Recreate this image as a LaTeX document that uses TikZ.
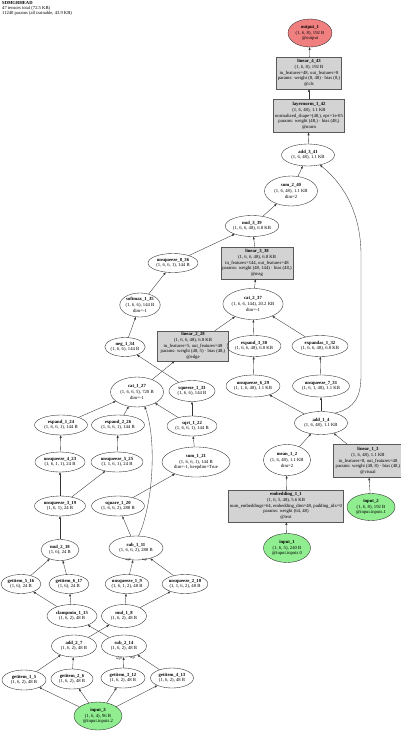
\documentclass[tikz,border=0pt]{standalone}
\usepackage{fontspec}
\setmainfont{Liberation Serif}
\usetikzlibrary{shapes.geometric,arrows.meta}
\definecolor{lgreen}{HTML}{90EE90}
\definecolor{lcoral}{HTML}{F08080}
\definecolor{lgray}{HTML}{D3D3D3}
\begin{document}
\begin{tikzpicture}[x=1pt,y=-1pt,
  every node/.style={font=\fontsize{4.7}{5.7}\selectfont, align=center, inner sep=0pt},
  op/.style={ellipse, draw=black!85, line width=0.35pt},
  inp/.style={op, fill=lgreen},
  outp/.style={op, fill=lcoral},
  mod/.style={rectangle, draw=black!65, fill=lgray, line width=0.35pt, inner xsep=1.5pt, inner ysep=1pt},
  edge/.style={draw=black!80, line width=0.35pt, -{Triangle[length=2.6pt,width=1.9pt]}},
  lab/.style={font=\fontsize{3.2}{3.6}\selectfont}
]
\useasboundingbox (0,0) rectangle (400,731);
\fill[white] (0,0) rectangle (400,731);

\node[anchor=north west, align=left, font=\fontsize{4.6}{4.7}\selectfont] (hdr) at (2,1.5)
  {\textbf{SDMGRHEAD}\\47 tensors total (72.5 KB)\\11240 params (all trainable, 43.9 KB)};

% right column
\node[outp, minimum width=44pt, minimum height=28pt] (output_1) at (310,33) {\textbf{output\_1}\\(1, 6, 8), 192 B\\@output};
\node[mod, minimum width=63pt, minimum height=32pt] (linear_4_43) at (309,73) {\textbf{linear\_4\_43}\\(1, 6, 8), 192 B\\in\_features=48, out\_features=8\\params: weight (8, 48) · bias (8,)\\@cls};
\node[mod, minimum width=69pt, minimum height=33pt] (layernorm_1_42) at (309,116) {\textbf{layernorm\_1\_42}\\(1, 6, 48), 1.1 KB\\normalized\_shape=(48,), eps=1e-05\\params: weight (48,) · bias (48,)\\@norm};
\node[op, minimum width=53pt, minimum height=22pt] (add_3_41) at (308,155) {\textbf{add\_3\_41}\\(1, 6, 48), 1.1 KB};
\node[op, minimum width=53pt, minimum height=30pt] (sum_2_40) at (291,191) {\textbf{sum\_2\_40}\\(1, 6, 48), 1.1 KB\\dim=2};
\node[op, minimum width=51pt, minimum height=21pt] (mul_3_39) at (252,226) {\textbf{mul\_3\_39}\\(1, 6, 6, 48), 6.8 KB};
\node[mod, minimum width=69pt, minimum height=32pt] (linear_3_38) at (257,263) {\textbf{linear\_3\_38}\\(1, 6, 6, 48), 6.8 KB\\in\_features=144, out\_features=48\\params: weight (48, 144) · bias (48,)\\@msg};
\node[op, minimum width=50pt, minimum height=19pt] (unsqueeze_8_36) at (173,263) {\textbf{unsqueeze\_8\_36}\\(1, 6, 6, 1), 144 B};
\node[op, minimum width=58pt, minimum height=31pt] (cat_2_37) at (253,304) {\textbf{cat\_2\_37}\\(1, 6, 6, 144), 20.2 KB\\dim=-1};
\node[op, minimum width=40pt, minimum height=24pt] (softmax_1_35) at (140,305) {\textbf{softmax\_1\_35}\\(1, 6, 6), 144 B\\dim=-1};
\node[op, minimum width=38pt, minimum height=19pt] (neg_1_34) at (125,347) {\textbf{neg\_1\_34}\\(1, 6, 6), 144 B};
\node[mod, minimum width=71pt, minimum height=30pt] (linear_2_28) at (193,346) {\textbf{linear\_2\_28}\\(1, 6, 6, 48), 6.8 KB\\in\_features=5, out\_features=48\\params: weight (48, 5) · bias (48,)\\@edge};
\node[op, minimum width=54pt, minimum height=21pt] (expand_3_30) at (254,346) {\textbf{expand\_3\_30}\\(1, 6, 6, 48), 6.8 KB};
\node[op, minimum width=56pt, minimum height=21pt] (expandas_1_32) at (320,346) {\textbf{expandas\_1\_32}\\(1, 6, 6, 48), 6.8 KB};
\node[op, minimum width=54pt, minimum height=22pt] (unsqueeze_6_29) at (253,386) {\textbf{unsqueeze\_6\_29}\\(1, 1, 6, 48), 1.1 KB};
\node[op, minimum width=57pt, minimum height=22pt] (unsqueeze_7_31) at (321,386) {\textbf{unsqueeze\_7\_31}\\(1, 6, 1, 48), 1.1 KB};
\node[op, minimum width=53pt, minimum height=23pt] (add_1_4) at (321,423) {\textbf{add\_1\_4}\\(1, 6, 48), 1.1 KB};
\node[op, minimum width=46pt, minimum height=31pt] (mean_1_2) at (287,460) {\textbf{mean\_1\_2}\\(1, 6, 48), 1.1 KB\\dim=2};
\node[mod, minimum width=70pt, minimum height=33pt] (linear_1_3) at (368,461) {\textbf{linear\_1\_3}\\(1, 6, 48), 1.1 KB\\in\_features=8, out\_features=48\\params: weight (48, 8) · bias (48,)\\@visual};
\node[mod, minimum width=111pt, minimum height=32pt] (embedding_1_1) at (286,506) {\textbf{embedding\_1\_1}\\(1, 6, 5, 48), 5.6 KB\\num\_embeddings=64, embedding\_dim=48, padding\_idx=0\\params: weight (64, 48)\\@text};
\node[inp, minimum width=47pt, minimum height=29pt] (input_1) at (287,548) {\textbf{input\_1}\\(1, 6, 5), 240 B\\@input.inputs.0};
\node[inp, minimum width=48pt, minimum height=27pt] (input_2) at (371,507) {\textbf{input\_2}\\(1, 6, 8), 192 B\\@input.inputs.1};

% middle / left
\node[op, minimum width=53pt, minimum height=30pt] (cat_1_27) at (137,392) {\textbf{cat\_1\_27}\\(1, 6, 6, 5), 720 B\\dim=-1};
\node[op, minimum width=46pt, minimum height=21pt] (squeeze_1_33) at (192,391) {\textbf{squeeze\_1\_33}\\(1, 6, 6), 144 B};
\node[op, minimum width=53pt, minimum height=20pt] (expand_1_24) at (61,425) {\textbf{expand\_1\_24}\\(1, 6, 6, 1), 144 B};
\node[op, minimum width=53pt, minimum height=20pt] (expand_2_26) at (118,425) {\textbf{expand\_2\_26}\\(1, 6, 6, 1), 144 B};
\node[op, minimum width=50pt, minimum height=20pt] (sqrt_1_22) at (192,426) {\textbf{sqrt\_1\_22}\\(1, 6, 6, 1), 144 B};
\node[op, minimum width=50pt, minimum height=20pt] (unsqueeze_4_23) at (60,462) {\textbf{unsqueeze\_4\_23}\\(1, 6, 1, 1), 24 B};
\node[op, minimum width=52pt, minimum height=20pt] (unsqueeze_5_25) at (117,462) {\textbf{unsqueeze\_5\_25}\\(1, 1, 6, 1), 24 B};
\node[op, minimum width=68pt, minimum height=30pt] (sum_1_21) at (196,462) {\textbf{sum\_1\_21}\\(1, 6, 6, 1), 144 B\\dim=-1, keepdim=True};
\node[op, minimum width=51pt, minimum height=20pt] (unsqueeze_3_19) at (60,506) {\textbf{unsqueeze\_3\_19}\\(1, 6, 1), 24 B};
\node[op, minimum width=53pt, minimum height=20pt] (square_1_20) at (118,506) {\textbf{square\_1\_20}\\(1, 6, 6, 2), 288 B};
\node[op, minimum width=38pt, minimum height=21pt] (mul_2_18) at (60,550) {\textbf{mul\_2\_18}\\(1, 6), 24 B};
\node[op, minimum width=54pt, minimum height=24pt] (sub_1_11) at (136,548) {\textbf{sub\_1\_11}\\(1, 6, 6, 2), 288 B};
\node[op, minimum width=40pt, minimum height=19pt] (getitem_5_16) at (21,584) {\textbf{getitem\_5\_16}\\(1, 6), 24 B};
\node[op, minimum width=40pt, minimum height=19pt] (getitem_6_17) at (69,584) {\textbf{getitem\_6\_17}\\(1, 6), 24 B};
\node[op, minimum width=42pt, minimum height=19pt] (unsqueeze_1_9) at (127,584) {\textbf{unsqueeze\_1\_9}\\(1, 6, 1, 2), 48 B};
\node[op, minimum width=44pt, minimum height=19pt] (unsqueeze_2_10) at (185,584) {\textbf{unsqueeze\_2\_10}\\(1, 1, 6, 2), 48 B};
\node[op, minimum width=50pt, minimum height=23pt] (clampmin_1_15) at (72,616) {\textbf{clampmin\_1\_15}\\(1, 6, 2), 48 B};
\node[op, minimum width=45pt, minimum height=23pt] (mul_1_8) at (124,616) {\textbf{mul\_1\_8}\\(1, 6, 2), 48 B};
\node[op, minimum width=45pt, minimum height=22pt] (add_2_7) at (74,646) {\textbf{add\_2\_7}\\(1, 6, 2), 48 B};
\node[op, minimum width=45pt, minimum height=22pt] (sub_2_14) at (124,646) {\textbf{sub\_2\_14}\\(1, 6, 2), 48 B};
\node[op, minimum width=44pt, minimum height=20pt] (getitem_1_5) at (24,680) {\textbf{getitem\_1\_5}\\(1, 6, 2), 48 B};
\node[op, minimum width=42pt, minimum height=20pt] (getitem_2_6) at (72,679) {\textbf{getitem\_2\_6}\\(1, 6, 2), 48 B};
\node[op, minimum width=44pt, minimum height=20pt] (getitem_3_12) at (123,678) {\textbf{getitem\_3\_12}\\(1, 6, 2), 48 B};
\node[op, minimum width=43pt, minimum height=20pt] (getitem_4_13) at (172,678) {\textbf{getitem\_4\_13}\\(1, 6, 2), 48 B};
\node[inp, minimum width=48pt, minimum height=28pt] (input_3) at (98,716) {\textbf{input\_3}\\(1, 6, 4), 96 B\\@input.inputs.2};

% edge labels
\node[lab] (la1) at (128,559.5) {arg0};
\node[lab] (la2) at (145,559.5) {arg1};
\node[lab] (la3) at (119,658.5) {arg0};
\node[lab] (la4) at (133,658) {arg1};

% edges
\draw[edge] (input_3) -- (getitem_1_5);
\draw[edge] (input_3) -- (getitem_2_6);
\draw[edge] (input_3) -- (getitem_3_12);
\draw[edge] (input_3) -- (getitem_4_13);
\draw[edge] (getitem_1_5) -- (add_2_7);
\draw[edge] (getitem_2_6) -- (add_2_7);
\draw[edge] (getitem_3_12) -- (sub_2_14);
\draw[edge] (getitem_4_13) -- (sub_2_14);
\draw[edge] (add_2_7) -- (mul_1_8);
\draw[edge] (sub_2_14) -- (clampmin_1_15);
\draw[edge] (mul_1_8) -- (unsqueeze_1_9);
\draw[edge] (mul_1_8) -- (unsqueeze_2_10);
\draw[edge] (clampmin_1_15) -- (getitem_5_16);
\draw[edge] (clampmin_1_15) -- (getitem_6_17);
\draw[edge] (unsqueeze_1_9) -- (sub_1_11);
\draw[edge] (unsqueeze_2_10) -- (sub_1_11);
\draw[edge] (getitem_5_16) -- (mul_2_18);
\draw[edge] (getitem_6_17) -- (mul_2_18);
\draw[edge] (mul_2_18) -- (unsqueeze_3_19);
\draw[edge] (sub_1_11) -- (square_1_20);
\draw[edge] (sub_1_11.78) .. controls (153,505) and (157,440) .. (cat_1_27.-62);
\draw[edge] (square_1_20) -- (sum_1_21);
\draw[edge] (unsqueeze_3_19) -- (unsqueeze_4_23);
\draw[edge] (unsqueeze_3_19) -- (unsqueeze_5_25);
\draw[edge] (unsqueeze_4_23) -- (expand_1_24);
\draw[edge] (unsqueeze_5_25) -- (expand_2_26);
\draw[edge] (sum_1_21) -- (sqrt_1_22);
\draw[edge] (expand_1_24) -- (cat_1_27);
\draw[edge] (expand_2_26) -- (cat_1_27);
\draw[edge] (sqrt_1_22) -- (cat_1_27);
\draw[edge] (sqrt_1_22) -- (squeeze_1_33);
\draw[edge] (squeeze_1_33) -- (neg_1_34);
\draw[edge] (neg_1_34) -- (softmax_1_35);
\draw[edge] (softmax_1_35) -- (unsqueeze_8_36);
\draw[edge] (cat_1_27) -- (linear_2_28);
\draw[edge] (linear_2_28) -- (cat_2_37);
\draw[edge] (expand_3_30) -- (cat_2_37);
\draw[edge] (expandas_1_32) -- (cat_2_37);
\draw[edge] (unsqueeze_6_29) -- (expand_3_30);
\draw[edge] (unsqueeze_7_31) -- (expandas_1_32);
\draw[edge] (add_1_4) -- (unsqueeze_6_29);
\draw[edge] (add_1_4) -- (unsqueeze_7_31);
\draw[edge] (add_1_4.35) .. controls (356,408) and (361,395) .. (361,375) -- (361,255) .. controls (361,215) and (345,185) .. (add_3_41.-40);
\draw[edge] (mean_1_2) -- (add_1_4);
\draw[edge] (linear_1_3) -- (add_1_4);
\draw[edge] (embedding_1_1) -- (mean_1_2);
\draw[edge] (input_1) -- (embedding_1_1);
\draw[edge] (input_2) -- (linear_1_3);
\draw[edge] (cat_2_37) -- (linear_3_38);
\draw[edge] (linear_3_38) -- (mul_3_39);
\draw[edge] (unsqueeze_8_36) -- (mul_3_39);
\draw[edge] (mul_3_39) -- (sum_2_40);
\draw[edge] (sum_2_40) -- (add_3_41);
\draw[edge] (add_3_41) -- (layernorm_1_42);
\draw[edge] (layernorm_1_42) -- (linear_4_43);
\draw[edge] (linear_4_43) -- (output_1);
\end{tikzpicture}
\end{document}
